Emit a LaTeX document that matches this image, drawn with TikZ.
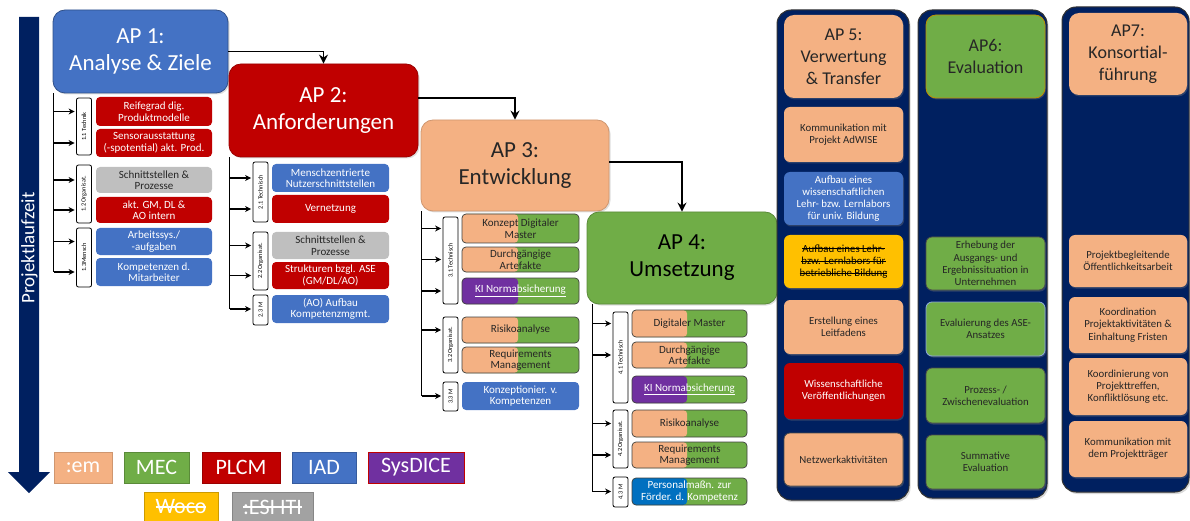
\documentclass[tikz,border=0pt]{standalone}
\usepackage{fontspec}
\setmainfont{Carlito}
\usetikzlibrary{arrows.meta,positioning,calc,shadows}
\definecolor{apblue}{HTML}{4472C4}
\definecolor{apred}{HTML}{C00000}
\definecolor{apsalmon}{HTML}{F4B183}
\definecolor{apgreen}{HTML}{70AD47}
\definecolor{apgray}{HTML}{BFBFBF}
\definecolor{apyellow}{HTML}{FFC000}
\definecolor{appurple}{HTML}{7030A0}
\definecolor{apnavy}{HTML}{002060}
\definecolor{apcyan}{HTML}{0070C0}
\definecolor{apgold}{HTML}{BF9000}
\definecolor{txtdark}{HTML}{262626}
\newcommand\durch[1]{\setbox0\hbox{#1}\rlap{\rule[0.28em]{\wd0}{0.07em}}\box0}
\tikzset{
  >={Stealth[length=6pt,width=6pt]},
  ap/.style={rounded corners=12pt, align=center, line width=.8pt, inner sep=2pt,
    font=\fontsize{23}{27}\selectfont,
    drop shadow={opacity=.25,shadow xshift=1.5pt,shadow yshift=-1.5pt}},
  sub/.style={rounded corners=4pt, align=center, inner sep=1pt, text=txtdark,
    font=\fontsize{11}{11.5}\selectfont},
  rot/.style={sub, fill=apred, text=white},
  blau/.style={sub, fill=apblue, text=white},
  grau/.style={sub, fill=apgray},
  halb/.style={sub, fill=apgreen, draw=black!75, line width=.7pt,
    path picture={\fill[#1] (path picture bounding box.north west) rectangle
      ($(path picture bounding box.south west)!.48!(path picture bounding box.south east)$);}},
  halb/.default=apsalmon,
  wp/.style={draw, fill=white, rounded corners=2pt, rotate=90, line width=.8pt, inner sep=0pt,
    minimum height=15pt, font=\fontsize{6.3}{7}\selectfont},
  stamm/.style={line width=1.3pt},
  ast/.style={line width=1.3pt, ->, shorten >=1.5pt},
  conn/.style={line width=1.7pt, -{Stealth[length=9pt,width=9pt]}},
  spalte/.style={fill=apnavy, draw=black!80, line width=1pt, rounded corners=14pt,
    drop shadow={opacity=.3,shadow xshift=1.5pt,shadow yshift=-2pt}},
  kasten/.style={rounded corners=6pt, align=center, inner sep=1.5pt, text=txtdark,
    minimum width=119pt, font=\fontsize{10.8}{12.2}\selectfont,
    drop shadow={opacity=.35,shadow xshift=1pt,shadow yshift=-1.5pt}},
  legende/.style={minimum height=31pt, inner sep=0pt, text=white, line width=.8pt,
    font=\fontsize{22}{22}\selectfont}
}
\begin{document}
\begin{tikzpicture}[x=1pt, y=-1pt]
\path[use as bounding box] (0,0) rectangle (1190,521);

% Zeitachse
\fill[apnavy] (19,17) -- (39,17) -- (39,472) -- (50,472) -- (29,493) -- (8,472) -- (19,472) -- cycle;
\node[rotate=90, text=white, inner sep=0pt, font=\fontsize{19}{19}\selectfont] (zeit) at (29.5,248) {Projektlaufzeit};

% Arbeitspakete 1-4
\node[ap, fill=apblue, draw=apblue!70!black, text=white, minimum width=175pt, minimum height=83pt]
  (ap1) at (140.5,51.5) {AP 1:\\Analyse \& Ziele};
\node[ap, fill=apred, draw=apred!80!black, text=white, minimum width=189pt, minimum height=93pt]
  (ap2) at (323.5,110.5) {AP 2:\\Anforderungen};
\node[ap, fill=apsalmon, draw=apsalmon!85!black, text=txtdark, minimum width=188pt, minimum height=91pt]
  (ap3) at (515,165.5) {AP 3:\\Entwicklung};
\node[ap, fill=apgreen, draw=apgreen!80!black, text=black, minimum width=190pt, minimum height=92pt]
  (ap4) at (682,258) {AP 4:\\Umsetzung};

\draw[conn] (ap1.east) -| (ap2.north);
\draw[conn] ([yshift=12.5pt]ap2.east) -| (ap3.north);
\draw[conn] ([yshift=3.5pt]ap3.east) -| (ap4.north);

% AP 1 Unterpunkte
\begin{scope}[sub/.append style={minimum width=116pt}]
\node[rot,  minimum height=29pt] (r1) at (154,111.5) {Reifegrad dig.\\Produktmodelle};
\node[rot,  minimum height=28pt] (r2) at (154,143)   {Sensorausstattung\\(-spotential) akt. Prod.};
\node[grau, minimum height=26pt] (r3) at (154,180)   {Schnittstellen \&\\Prozesse};
\node[rot,  minimum height=26pt] (r4) at (154,210)   {akt. GM, DL \&\\AO intern};
\node[blau, minimum height=27pt] (r5) at (154,241.5) {Arbeitssys./\\-aufgaben};
\node[blau, minimum height=28pt] (r6) at (154,272)   {Kompetenzen d.\\Mitarbeiter};
\end{scope}
\node[wp, minimum width=57pt] (l11) at (84,126.5) {1.1 Technik};
\node[wp, minimum width=58pt] (l12) at (84,194)   {1.2 Organisat.};
\node[wp, minimum width=59pt] (l13) at (84,257.5) {1.3Mensch};
\draw[stamm] ([xshift=1pt]ap1.south west) -- ([xshift=1pt]ap1.south west |- r6);
\foreach \b/\l in {r1/l11, r2/l11, r3/l12, r4/l12, r5/l13, r6/l13}
  \draw[ast] ([xshift=1pt]ap1.south west |- \b) -- (\l.north |- \b);

% AP 2 Unterpunkte
\begin{scope}[sub/.append style={minimum width=117pt}]
\node[blau, minimum height=28pt] (s1) at (330.5,178)   {Menschzentrierte\\Nutzerschnittstellen};
\node[rot,  minimum height=28pt] (s2) at (330.5,209)   {Vernetzung};
\node[grau, minimum height=27pt] (s3) at (330.5,245.5) {Schnittstellen \&\\Prozesse};
\node[rot,  minimum height=27pt] (s4) at (330.5,275.5) {Strukturen bzgl. ASE\\(GM/DL/AO)};
\node[blau, minimum height=28pt] (s5) at (330.5,309)   {(AO) Aufbau\\Kompetenzmgmt.};
\end{scope}
\node[wp, minimum width=60pt] (l21) at (260.5,192) {2.1 Technisch};
\node[wp, minimum width=58pt] (l22) at (260.5,261) {2.2 Organisat.};
\node[wp, minimum width=30pt] (l23) at (260.5,310) {2.3 M};
\draw[stamm] ([xshift=1pt]ap2.south west) -- ([xshift=1pt]ap2.south west |- s5);
\foreach \b/\l in {s1/l21, s2/l21, s3/l22, s4/l22, s5/l23}
  \draw[ast] ([xshift=1pt]ap2.south west |- \b) -- (\l.north |- \b);

% AP 3 Unterpunkte
\begin{scope}[sub/.append style={minimum width=117pt}]
\node[halb, minimum height=29pt] (t1) at (520.5,228.5) {Konzept Digitaler\\Master};
\node[halb, minimum height=25pt] (t2) at (520.5,259.5) {Durchgängige\\Artefakte};
\node[halb=appurple, text=white, minimum height=26pt] (t3) at (520.5,291) {\underline{KI Normabsicherung}};
\node[halb, minimum height=26pt] (t4) at (520.5,330)   {Risikoanalyse};
\node[halb, minimum height=26pt] (t5) at (520.5,360)   {Requirements\\Management};
\node[blau, minimum height=28pt] (t6) at (520.5,396)   {Konzeptionier. v.\\Kompetenzen};
\end{scope}
\node[wp, minimum width=87pt] (l31) at (450.5,260.5) {3.1 Technisch};
\node[wp, minimum width=56pt] (l32) at (450.5,345)   {3.2 Organisat.};
\node[wp, minimum width=29pt] (l33) at (450.5,396.5) {3.3 M};
\draw[stamm] ([xshift=1pt]ap3.south west) -- ([xshift=1pt]ap3.south west |- t6);
\foreach \b/\l in {t1/l31, t2/l31, t3/l31, t4/l32, t6/l33}
  \draw[ast] ([xshift=1pt]ap3.south west |- \b) -- (\l.north |- \b);

% AP 4 Unterpunkte
\begin{scope}[sub/.append style={minimum width=115pt}]
\node[halb, minimum height=27pt] (u1) at (689.5,323.5) {Digitaler Master};
\node[halb, minimum height=26pt] (u2) at (689.5,355)   {Durchgängige\\Artefakte};
\node[halb=appurple, text=white, minimum height=27pt] (u3) at (689.5,389.5) {\underline{KI Normabsicherung}};
\node[halb, minimum height=27pt] (u4) at (689.5,423.5) {Risikoanalyse};
\node[halb, minimum height=26pt] (u5) at (689.5,455)   {Requirements\\Management};
\node[halb=apcyan, text=white, minimum height=27pt] (u6) at (689.5,491.5) {Personalmaßn. zur\\Förder. d. Kompetenz};
\end{scope}
\node[wp, minimum width=91pt] (l41) at (620.5,357.5) {4.1 Technisch};
\node[wp, minimum width=58pt] (l42) at (620.5,439)   {4.2 Organisat.};
\node[wp, minimum width=30pt] (l43) at (620.5,492)   {4.3 M};
\draw[stamm] ([xshift=6pt]ap4.south west) -- ([xshift=6pt]ap4.south west |- u6);
\foreach \b/\l in {u1/l41, u2/l41, u4/l42, u5/l42, u6/l43}
  \draw[ast] ([xshift=6pt]ap4.south west |- \b) -- (\l.north |- \b);

% AP 5
\node[spalte, minimum width=132pt, minimum height=490pt] (c5) at (843,255) {};
\node[kasten, fill=apsalmon, minimum height=83pt, rounded corners=10pt,
  font=\fontsize{18}{22}\selectfont] (ap5) at (843.5,56.5) {AP 5:\\Verwertung\\\& Transfer};
\node[kasten, fill=apsalmon, minimum height=55pt] (v1) at (843.5,134.5) {Kommunikation mit\\Projekt AdWISE};
\node[kasten, fill=apblue, text=white, minimum height=53pt] (v2) at (843.5,198.5)
  {Aufbau eines\\wissenschaftlichen\\Lehr- bzw. Lernlabors\\für univ. Bildung};
\node[kasten, fill=apyellow, text=black, minimum height=53pt] (v3) at (843.5,261.5)
  {\durch{Aufbau eines Lehr-}\\\durch{bzw. Lernlabors für}\\\durch{betriebliche Bildung}};
\node[kasten, fill=apsalmon, minimum height=54pt] (v4) at (843.5,327) {Erstellung eines\\Leitfadens};
\node[kasten, fill=apred, text=white, minimum height=56pt] (v5) at (843.5,391) {Wissenschaftliche\\Veröffentlichungen};
\node[kasten, fill=apsalmon, draw=black!70, line width=.8pt, minimum height=53pt] (v6) at (843.5,459.5) {Netzwerkaktivitäten};

% AP 6
\node[spalte, minimum width=129pt, minimum height=488pt] (c6) at (982.5,254) {};
\node[kasten, fill=apgreen, draw=apgold, line width=.8pt, minimum height=83pt, rounded corners=10pt,
  font=\fontsize{18}{22}\selectfont] (ap6) at (985.5,56.5) {AP6:\\Evaluation};
\node[kasten, fill=apgreen, draw=black!70, line width=.8pt, minimum height=53pt] (e1) at (985.5,263.5)
  {Erhebung der\\Ausgangs- und\\Ergebnissituation in\\Unternehmen};
\node[kasten, fill=apgreen, draw=apblue!60, line width=.8pt, minimum height=54pt] (e2) at (985.5,329)
  {Evaluierung des ASE-\\Ansatzes};
\node[kasten, fill=apgreen, draw=black!70, line width=.8pt, minimum height=55pt] (e3) at (985.5,395.5)
  {Prozess- /\\Zwischenevaluation};
\node[kasten, fill=apgreen, draw=black!70, line width=.8pt, minimum height=54pt] (e4) at (985.5,462)
  {Summative\\Evaluation};

% AP 7
\node[spalte, minimum width=127pt, minimum height=485pt] (c7) at (1125.5,249.5) {};
\node[kasten, fill=apsalmon, minimum width=118pt, minimum height=82pt, rounded corners=10pt,
  font=\fontsize{18}{22}\selectfont] (ap7) at (1128,54) {AP7:\\Konsortial-\\führung};
\node[kasten, fill=apsalmon, minimum width=118pt, minimum height=52pt] (k1) at (1128,261)
  {Projektbegleitende\\Öffentlichkeitsarbeit};
\node[kasten, fill=apsalmon, minimum width=118pt, minimum height=56pt] (k2) at (1128,325)
  {Koordination\\Projektaktivitäten \&\\Einhaltung Fristen};
\node[kasten, fill=apsalmon, minimum width=118pt, minimum height=57pt] (k3) at (1128,386.5)
  {Koordinierung von\\Projekttreffen,\\Konfliktlösung etc.};
\node[kasten, fill=apsalmon, minimum width=118pt, minimum height=56pt] (k4) at (1128,449)
  {Kommunikation mit\\dem Projektträger};

% Legende
\node[legende, fill=apsalmon, draw=apsalmon!85!black, minimum width=58pt] (em)   at (83,467.5)  {:em};
\node[legende, fill=apgreen,  draw=apgreen!80!black,  minimum width=65pt] (mec)  at (156.5,467.5) {MEC};
\node[legende, fill=apred,    draw=apred!80!black,    minimum width=78pt] (plcm) at (241,467.5) {PLCM};
\node[legende, fill=apblue,   draw=apblue!80!black,   minimum width=64pt] (iad)  at (324,467.5) {IAD};
\node[legende, fill=appurple, draw=apred, line width=.5pt, minimum width=96pt] (sysd) at (416,467.5) {SysDICE};
\node[legende, fill=apyellow, draw=apyellow!80!black, minimum width=74pt, minimum height=30pt] (woco) at (181,507) {\durch{Woco}};
\node[legende, fill=apgray!85!black, draw=apgray!70!black, minimum width=81pt, minimum height=30pt] (esi) at (272.5,507) {\durch{:ESI ITI}};
\end{tikzpicture}
\end{document}
